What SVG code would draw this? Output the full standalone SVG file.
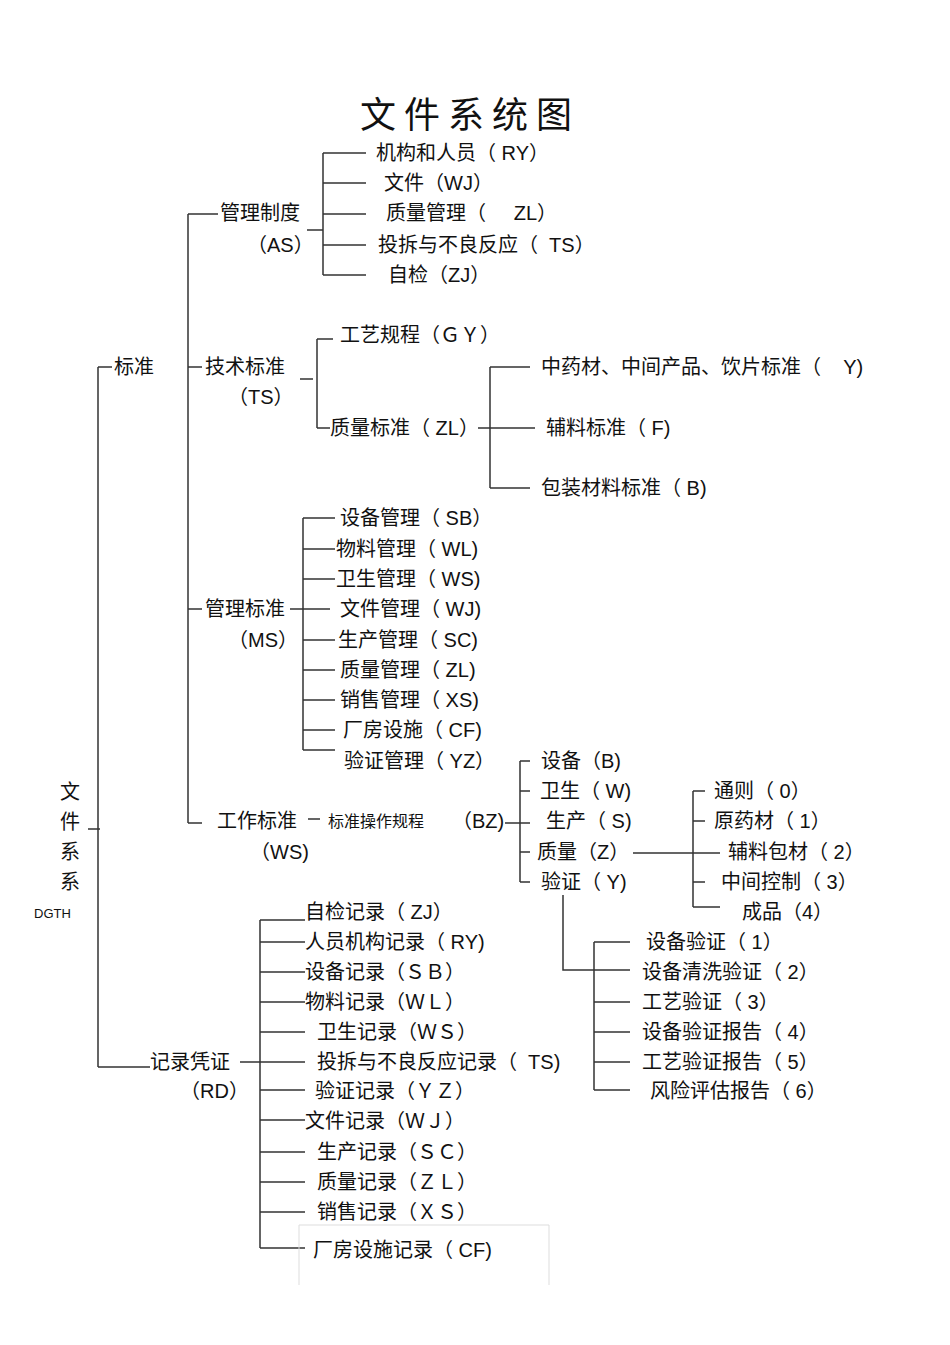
<svg xmlns="http://www.w3.org/2000/svg" width="950" height="1345" viewBox="0 0 950 1345">
<style>
text{font-family:"Liberation Sans","Noto Sans CJK SC",sans-serif;font-size:20px;fill:#111;dominant-baseline:central;white-space:pre}
.s{font-size:16px}
.t{font-size:36px;letter-spacing:8px}
.d{font-size:13px}
#c path{fill:none;stroke:#333;stroke-width:1.5}
</style>
<rect width="950" height="1345" fill="#fff"/>
<text class="t" x="360" y="115">文件系统图</text>
<g id="c">
<path d="M88 829H100M98 367V1067M98 367H112M98 1067H150"/>
<path d="M188 214V823M188 214H218M188 367H202M188 609H202M188 823H202"/>
<path d="M307 230H323M323 153V275M323 153H366M323 183H366M323 214H366M323 245H366M323 275H366"/>
<path d="M300 379H313M317 339V428M317 339H333M317 428H330M478 428H535M490 367V488M490 367H530M490 488H530"/>
<path d="M290 609H330M303 518V750M303 518H335M303 549H335M303 579H335M303 640H335M303 670H335M303 700H335M303 730H335M303 750H335"/>
<path d="M308 819H320M505 823H530M520 761V882M520 761H530M520 791H530M520 852H530M520 882H530"/>
<path d="M633 853H720M693 791V907M693 791H705M693 821H705M693 882H705M693 907H720"/>
<path d="M563 895V970H600M594 942V1090M594 942H630M594 970H630M594 1002H630M594 1032H630M594 1062H630M594 1090H630"/>
<path d="M240 1062H260M260 920V1248M260 920H305M260 942H305M260 972H305M260 1002H305M260 1032H305M260 1062H305M260 1090H305M260 1120H305M260 1152H305M260 1182H305M260 1212H305M260 1248H305"/>
</g>
<path d="M299 1285V1225H549V1285" fill="none" stroke="#ddd" stroke-width="1"/>
<g id="root"><text x="60" y="792">文</text><text x="60" y="822">件</text><text x="60" y="852">系</text><text x="60" y="882">系</text><text class="d" x="34" y="913">DGTH</text></g>
<g id="bz"><text x="114" y="367">标准</text></g>
<g id="as"><text x="220" y="213">管理制度</text><text x="247" y="245">（AS）</text></g>
<g id="as1"><text x="376" y="153">机构和人员（ RY）</text></g>
<g id="as2"><text x="384" y="183">文件（WJ）</text></g>
<g id="as3"><text x="386" y="213">质量管理（     ZL）</text></g>
<g id="as4"><text x="378" y="245">投拆与不良反应（  TS）</text></g>
<g id="as5"><text x="388" y="275">自检（ZJ）</text></g>
<g id="ts"><text x="205" y="367">技术标准</text><text x="228" y="397">（TS）</text></g>
<g id="gy"><text x="340" y="335">工艺规程（ＧＹ）</text></g>
<g id="zl"><text x="330" y="428">质量标准（ ZL）</text></g>
<g id="zl1"><text x="541" y="367">中药材、中间产品、饮片标准（    Y)</text></g>
<g id="zl2"><text x="546" y="428">辅料标准（ F)</text></g>
<g id="zl3"><text x="541" y="488">包装材料标准（ B)</text></g>
<g id="ms"><text x="205" y="609">管理标准</text><text x="228" y="640">（MS）</text></g>
<g id="ms1"><text x="340" y="518">设备管理（ SB）</text></g>
<g id="ms2"><text x="336" y="549">物料管理（ WL)</text></g>
<g id="ms3"><text x="336" y="579">卫生管理（ WS)</text></g>
<g id="ms4"><text x="340" y="609">文件管理（ WJ)</text></g>
<g id="ms5"><text x="338" y="640">生产管理（ SC)</text></g>
<g id="ms6"><text x="340" y="670">质量管理（ ZL)</text></g>
<g id="ms7"><text x="340" y="700">销售管理（ XS)</text></g>
<g id="ms8"><text x="343" y="730">厂房设施（ CF)</text></g>
<g id="ms9"><text x="344" y="761">验证管理（ YZ）</text></g>
<g id="ws"><text x="217" y="821">工作标准</text><text x="250" y="852">（WS)</text></g>
<g id="sop"><text class="s" x="328" y="821">标准操作规程</text><text x="452" y="821">（BZ)</text></g>
<g id="b1"><text x="541" y="761">设备（B)</text></g>
<g id="b2"><text x="540" y="791">卫生（ W)</text></g>
<g id="b3"><text x="546" y="821">生产（ S)</text></g>
<g id="b4"><text x="537" y="852">质量（Z）</text></g>
<g id="b5"><text x="541" y="882">验证（ Y)</text></g>
<g id="q0"><text x="714" y="791">通则（ 0）</text></g>
<g id="q1"><text x="714" y="821">原药材（ 1）</text></g>
<g id="q2"><text x="728" y="852">辅料包材（ 2）</text></g>
<g id="q3"><text x="721" y="882">中间控制（ 3）</text></g>
<g id="q4"><text x="742" y="912">成品（4）</text></g>
<g id="v1"><text x="646" y="942">设备验证（ 1）</text></g>
<g id="v2"><text x="642" y="972">设备清洗验证（ 2）</text></g>
<g id="v3"><text x="642" y="1002">工艺验证（ 3）</text></g>
<g id="v4"><text x="642" y="1032">设备验证报告（ 4）</text></g>
<g id="v5"><text x="642" y="1062">工艺验证报告（ 5）</text></g>
<g id="v6"><text x="650" y="1091">风险评估报告（ 6）</text></g>
<g id="rd"><text x="150" y="1062">记录凭证</text><text x="180" y="1091">（RD）</text></g>
<g id="r1"><text x="305" y="912">自检记录（ ZJ）</text></g>
<g id="r2"><text x="305" y="942">人员机构记录（ RY)</text></g>
<g id="r3"><text x="305" y="972">设备记录（ＳＢ）</text></g>
<g id="r4"><text x="305" y="1002">物料记录（ＷＬ）</text></g>
<g id="r5"><text x="317" y="1032">卫生记录（ＷＳ）</text></g>
<g id="r6"><text x="317" y="1062">投拆与不良反应记录（  TS)</text></g>
<g id="r7"><text x="315" y="1091">验证记录（ＹＺ）</text></g>
<g id="r8"><text x="305" y="1121">文件记录（ＷＪ）</text></g>
<g id="r9"><text x="317" y="1152">生产记录（ＳＣ）</text></g>
<g id="r10"><text x="317" y="1182">质量记录（ＺＬ）</text></g>
<g id="r11"><text x="317" y="1212">销售记录（ＸＳ）</text></g>
<g id="r12"><text x="313" y="1250">厂房设施记录（ CF)</text></g>
</svg>
